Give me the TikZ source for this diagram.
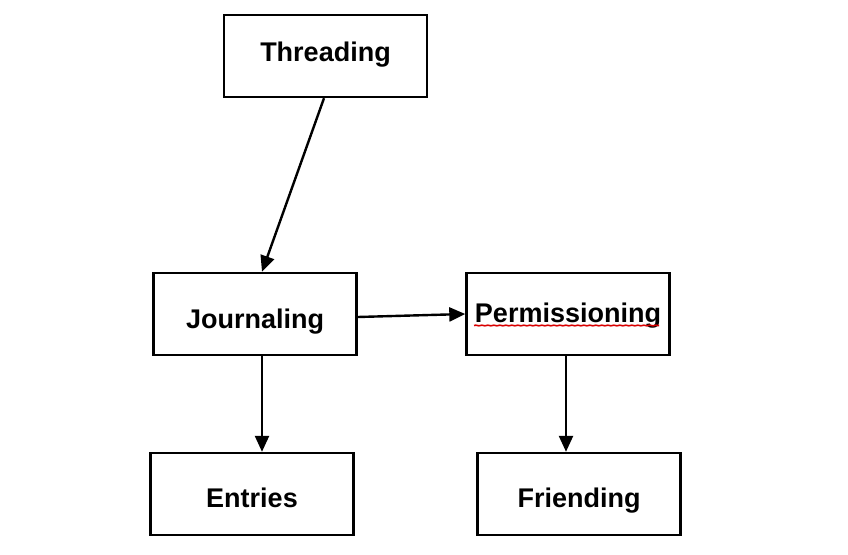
\documentclass[tikz,border=0pt]{standalone}
\usepackage{fontspec}
\setmainfont{Liberation Sans}
\usetikzlibrary{arrows.meta,decorations.pathmorphing}
\begin{document}
\begin{tikzpicture}[x=1pt,y=-1pt,
  box/.style={draw=black,line width=2.4pt,minimum width=203pt,minimum height=82pt,inner sep=0pt,text depth=0pt,font=\fontsize{27}{30}\selectfont\bfseries},
  arr/.style={line width=2.4pt,-{Triangle[length=16pt,width=14pt]}}]
\useasboundingbox (0,0) rectangle (848,554);
\fill[white] (0,0) rectangle (848,554);
\node[box,text height=11pt] (thr) at (325.5,56) {Threading};
\node[box,text height=29pt] (jour) at (255,314) {Journaling};
\node[box,text height=17pt] (perm) at (568,314) {Permissioning};
\node[box,text height=27pt] (ent) at (252,494) {Entries};
\node[box,text height=27pt] (fri) at (579,494) {Friending};
\coordinate (ulA) at (474,325.5);
\coordinate (ulB) at (659,325.5);
\draw[red!85!black,line width=1.6pt,decorate,decoration={snake,amplitude=0.3pt,segment length=6pt}] (ulA) -- (ulB);
\draw[arr] ([xshift=-1.5pt]thr.south) -- ([xshift=7pt]jour.north);
\draw[arr] ([yshift=-3pt]jour.east) -- (perm.west);
\draw[arr] ([xshift=7pt]jour.south) -- ([xshift=10pt]ent.north);
\draw[arr] ([xshift=-2pt]perm.south) -- ([xshift=-13pt]fri.north);
\end{tikzpicture}
\end{document}
